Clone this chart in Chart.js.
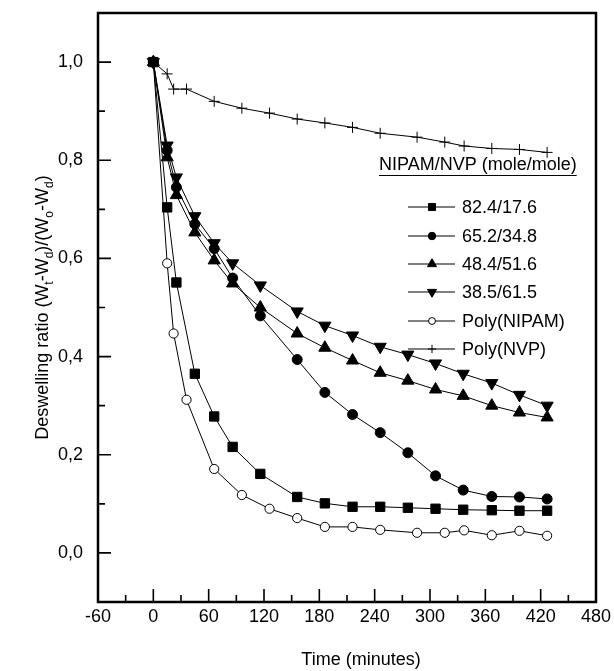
<!DOCTYPE html>
<html>
<head>
<meta charset="utf-8">
<script src="https://cdn.jsdelivr.net/npm/chart.js@4/dist/chart.umd.min.js"></script>
<style>
  html, body { margin: 0; padding: 0; background: #fff; }
  #wrap { width: 614px; height: 671px; }
</style>
</head>
<body>
<div id="wrap"><canvas id="deswellChart" width="614" height="671"></canvas></div>
<script>
// time in minutes
const timeCopolymer = [0, 15, 25, 45, 66, 86, 116, 156, 186, 216, 246, 276, 306, 336, 367, 397, 427];
const timeHomopolymer = [0, 15, 22, 36, 66, 96, 126, 156, 186, 216, 246, 286, 316, 337, 367, 397, 427];

// deswelling ratio (Wt-Wd)/(Wo-Wd)
const ratio824 = [1.0, 0.704, 0.551, 0.365, 0.278, 0.216, 0.161, 0.114, 0.101, 0.094, 0.094, 0.092, 0.090, 0.088, 0.087, 0.086, 0.086];
const ratio652 = [1.0, 0.82, 0.745, 0.67, 0.62, 0.56, 0.483, 0.394, 0.327, 0.282, 0.245, 0.204, 0.157, 0.128, 0.115, 0.114, 0.110];
const ratio484 = [1.0, 0.806, 0.729, 0.653, 0.596, 0.549, 0.50, 0.447, 0.418, 0.392, 0.367, 0.351, 0.333, 0.320, 0.300, 0.286, 0.276];
const ratio385 = [1.0, 0.83, 0.765, 0.686, 0.631, 0.59, 0.545, 0.492, 0.463, 0.443, 0.42, 0.404, 0.386, 0.365, 0.346, 0.322, 0.30];
const ratioNipam = [1.0, 0.59, 0.447, 0.312, 0.171, 0.118, 0.090, 0.071, 0.053, 0.053, 0.047, 0.041, 0.041, 0.046, 0.036, 0.045, 0.035];
const ratioNvp = [1.0, 0.976, 0.945, 0.945, 0.920, 0.906, 0.896, 0.884, 0.876, 0.867, 0.855, 0.847, 0.837, 0.829, 0.824, 0.822, 0.816];

const seriesLabels = ['82.4/17.6', '65.2/34.8', '48.4/51.6', '38.5/61.5', 'Poly(NIPAM)', 'Poly(NVP)'];

const xMajor = [-60, 0, 60, 120, 180, 240, 300, 360, 420, 480];
const xMinor = [-30, 30, 90, 150, 210, 270, 330, 390, 450];
const yMajor = [0.0, 0.2, 0.4, 0.6, 0.8, 1.0];
const yMinor = [-0.1, 0.1, 0.3, 0.5, 0.7, 0.9];

const FONT = '"Liberation Sans", Arial, sans-serif';

function pairs(xs, ys) {
    const out = [];
    for (let i = 0; i < ys.length; i++) {
        out.push({x: xs[i], y: ys[i]});
    }
    return out;
}

function makeSet(label, xs, ys, style, radius, rotation, fill) {
    return {
        label: label,
        data: pairs(xs, ys),
        borderColor: '#000',
        borderWidth: 1,
        backgroundColor: fill,
        pointStyle: style,
        pointRadius: radius,
        pointRotation: rotation,
        pointBorderWidth: 1,
        pointBorderColor: '#000',
        pointBackgroundColor: fill,
        tension: 0,
        fill: false
    };
}

// inward ticks, box frame, axis titles and legend
const decorPlugin = {
    id: 'decor',
    afterDraw(chart) {
        const ctx = chart.ctx;
        const a = chart.chartArea;
        const xs = chart.scales.x;
        const ys = chart.scales.y;
        ctx.save();
        ctx.strokeStyle = '#000';
        ctx.fillStyle = '#000';

        ctx.lineWidth = 1.6;
        ctx.beginPath();
        xMajor.forEach(v => {
            const px = xs.getPixelForValue(v);
            ctx.moveTo(px, a.bottom); ctx.lineTo(px, a.bottom - 13);
        });
        xMinor.forEach(v => {
            const px = xs.getPixelForValue(v);
            ctx.moveTo(px, a.bottom); ctx.lineTo(px, a.bottom - 7);
        });
        yMajor.forEach(v => {
            const py = ys.getPixelForValue(v);
            ctx.moveTo(a.left, py); ctx.lineTo(a.left + 13, py);
        });
        yMinor.forEach(v => {
            const py = ys.getPixelForValue(v);
            ctx.moveTo(a.left, py); ctx.lineTo(a.left + 7, py);
        });
        ctx.stroke();

        ctx.lineWidth = 2.5;
        ctx.strokeRect(a.left, a.top, a.right - a.left, a.bottom - a.top);

        // x title
        ctx.font = '18px ' + FONT;
        ctx.textAlign = 'center';
        ctx.textBaseline = 'middle';
        ctx.fillText('Time (minutes)', 361, 660);

        // y title with subscripts
        const parts = [
            ['Deswelling ratio (W', false], ['t', true], ['-W', false], ['d', true],
            [')/(W', false], ['o', true], ['-W', false], ['d', true], [')', false]
        ];
        const bigFont = '18px ' + FONT;
        const smallFont = '12px ' + FONT;
        let total = 0;
        parts.forEach(p => {
            ctx.font = p[1] ? smallFont : bigFont;
            total += ctx.measureText(p[0]).width;
        });
        ctx.translate(48, (a.top + a.bottom) / 2);
        ctx.rotate(-Math.PI / 2);
        ctx.textAlign = 'left';
        ctx.textBaseline = 'alphabetic';
        let cx = -total / 2;
        parts.forEach(p => {
            ctx.font = p[1] ? smallFont : bigFont;
            ctx.fillText(p[0], cx, p[1] ? 5 : 0);
            cx += ctx.measureText(p[0]).width;
        });
        ctx.setTransform(1, 0, 0, 1, 0, 0);

        // legend
        ctx.font = '18px ' + FONT;
        ctx.textAlign = 'left';
        ctx.textBaseline = 'middle';
        const title = 'NIPAM/NVP (mole/mole)';
        ctx.fillText(title, 379, 165);
        const tw = ctx.measureText(title).width;
        ctx.lineWidth = 1.2;
        ctx.beginPath();
        ctx.moveTo(379, 175.5); ctx.lineTo(379 + tw, 175.5);
        ctx.stroke();

        const rowY = [207, 236, 264, 292, 321, 349];
        chart.data.datasets.forEach((ds, i) => {
            const y = rowY[i];
            ctx.lineWidth = 1;
            ctx.strokeStyle = '#000';
            ctx.beginPath();
            ctx.moveTo(408, y); ctx.lineTo(455, y);
            ctx.stroke();
            ctx.fillStyle = ds.pointBackgroundColor;
            Chart.helpers.drawPoint(ctx, {
                pointStyle: ds.pointStyle,
                rotation: ds.pointRotation,
                radius: ds.pointRadius * 0.75,
                borderWidth: 1
            }, 432, y);
            ctx.fillStyle = '#000';
            ctx.fillText(ds.label, 462, y + 1);
        });
        ctx.restore();
    }
};

const ctx = document.getElementById('deswellChart').getContext('2d');

const chart = new Chart(ctx, {
    type: 'line',
    data: {
        datasets: [
            makeSet(seriesLabels[0], timeCopolymer, ratio824, 'rect', 6.6, 0, '#000'),
            makeSet(seriesLabels[1], timeCopolymer, ratio652, 'circle', 5, 0, '#000'),
            makeSet(seriesLabels[2], timeCopolymer, ratio484, 'triangle', 7, 0, '#000'),
            makeSet(seriesLabels[3], timeCopolymer, ratio385, 'triangle', 7, 180, '#000'),
            makeSet(seriesLabels[4], timeHomopolymer, ratioNipam, 'circle', 4.6, 0, '#fff'),
            makeSet(seriesLabels[5], timeHomopolymer, ratioNvp, 'cross', 5.5, 0, '#000')
        ]
    },
    plugins: [decorPlugin],
    options: {
        responsive: false,
        animation: false,
        layout: { padding: { top: 13, right: 18, left: 0, bottom: 0 } },
        plugins: {
            legend: { display: false },
            tooltip: { enabled: false }
        },
        scales: {
            x: {
                type: 'linear',
                min: -60,
                max: 480,
                grid: { display: false, drawTicks: false },
                border: { display: false },
                afterBuildTicks: s => { s.ticks = xMajor.map(v => ({value: v})); },
                afterFit: s => { s.height = 69; s.paddingLeft = 0; s.paddingRight = 0; },
                ticks: {
                    padding: 4,
                    color: '#000',
                    font: { family: FONT, size: 18 },
                    callback: v => String(v)
                }
            },
            y: {
                type: 'linear',
                min: -0.1,
                max: 1.1,
                grid: { display: false, drawTicks: false },
                border: { display: false },
                afterBuildTicks: s => { s.ticks = yMajor.map(v => ({value: v})); },
                afterFit: s => { s.width = 98; s.paddingTop = 0; s.paddingBottom = 0; },
                ticks: {
                    padding: 15,
                    color: '#000',
                    font: { family: FONT, size: 18 },
                    callback: v => v.toFixed(1).replace('.', ',')
                }
            }
        }
    }
});
</script>
</body>
</html>
